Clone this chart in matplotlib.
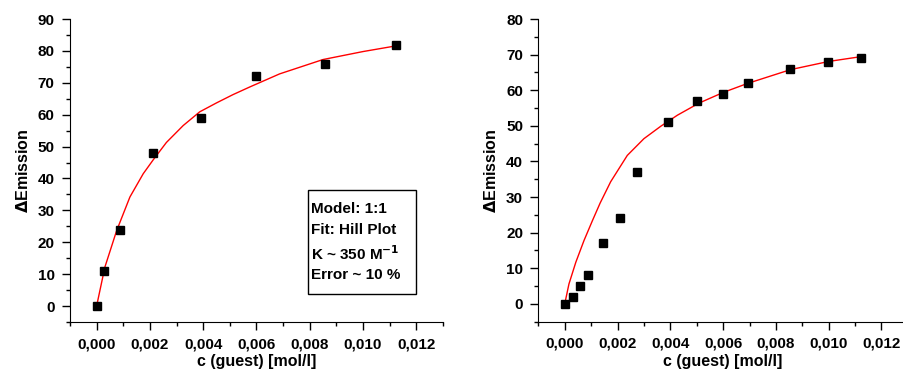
import matplotlib
matplotlib.use("Agg")
import matplotlib.pyplot as plt
from matplotlib.ticker import MultipleLocator, FuncFormatter
from matplotlib.patches import Rectangle

plt.rcParams['font.family'] = ['Liberation Sans', 'DejaVu Sans']
plt.rcParams['font.weight'] = 'bold'

# Messpunkte links (Modell 1:1)
conc_left = [0.0, 0.000275, 0.00086, 0.0021, 0.0039, 0.0060, 0.00856, 0.01124]
emis_left = [0, 11, 24, 48, 59, 72, 76, 82]

# Fitkurve links
fit_conc_left = [0.0, 0.00031, 0.00075, 0.00125, 0.00175, 0.00212, 0.00262, 0.00325,
                 0.00387, 0.0045, 0.00512, 0.00575, 0.00687, 0.0085, 0.0100, 0.01125]
fit_emis_left = [0.0, 12.2, 23.6, 34.2, 41.5, 45.8, 51.3, 56.6,
                 60.9, 63.7, 66.3, 68.7, 72.8, 77.3, 79.8, 81.6]

# Messpunkte rechts
conc_right = [0.0, 0.0003, 0.00059, 0.00087, 0.00144, 0.00208, 0.00273, 0.00391,
              0.0050, 0.0060, 0.00693, 0.00855, 0.00999, 0.01124]
emis_right = [0, 2, 5, 8, 17, 24, 37, 51, 57, 59, 62, 66, 68, 69]

# Fitkurve rechts
fit_conc_right = [0.0, 0.00016, 0.00042, 0.00073, 0.00105, 0.00134, 0.00174, 0.00237,
                  0.0030, 0.00364, 0.00427, 0.00509, 0.00601, 0.00692, 0.00856,
                  0.01001, 0.01128]
fit_emis_right = [0.0, 5.6, 11.7, 17.8, 23.4, 28.3, 34.3, 41.7,
                  46.4, 49.9, 53.0, 56.4, 59.4, 61.9, 65.8,
                  68.1, 69.5]

box_lines = ['Model: 1:1', 'Fit: Hill Plot', r'K ~ 350 M$^{\mathbf{-1}}$', 'Error ~ 10 %']


def comma_fmt(v, pos):
    return f"{v:.3f}".replace('.', ',')


def style_axis(ax, ymax):
    ax.set_xlim(-0.001, 0.013)
    ax.set_ylim(-5, ymax)
    ax.spines['top'].set_visible(False)
    ax.spines['right'].set_visible(False)
    ax.xaxis.set_major_locator(MultipleLocator(0.002))
    ax.xaxis.set_minor_locator(MultipleLocator(0.001))
    ax.yaxis.set_major_locator(MultipleLocator(10))
    ax.yaxis.set_minor_locator(MultipleLocator(5))
    ax.xaxis.set_major_formatter(FuncFormatter(comma_fmt))
    ax.tick_params(which='major', direction='out', length=6, width=1, labelsize=11, pad=5)
    ax.tick_params(which='minor', direction='out', length=3, width=1)
    for lab in ax.get_xticklabels() + ax.get_yticklabels():
        lab.set_fontweight('bold')
    ax.set_xlabel('c (guest) [mol/l]', fontsize=11.5, fontweight='bold', labelpad=2)
    ax.set_ylabel(r'$\Delta$Emission', fontsize=11.5, fontweight='bold', labelpad=5)


fig = plt.figure(figsize=(9.04, 3.73), dpi=100)

ax1 = fig.add_axes([0.0774, 0.1367, 0.4126, 0.8123])
ax1.plot(fit_conc_left, fit_emis_left, color='red', lw=1)
ax1.plot(conc_left, emis_left, 's', color='black', markersize=5.5)
style_axis(ax1, 90)

# Textkasten
ax1.add_patch(Rectangle((0.639, 0.093), 0.288, 0.342, transform=ax1.transAxes,
                        fill=False, edgecolor='black', lw=1))
for yy, txt in zip([0.374, 0.303, 0.225, 0.155], box_lines):
    ax1.text(0.645, yy, txt, transform=ax1.transAxes, fontsize=11,
             fontweight='bold', va='center', ha='left')

ax2 = fig.add_axes([0.5955, 0.1375, 0.4088, 0.8115])
ax2.plot(fit_conc_right, fit_emis_right, color='red', lw=1)
ax2.plot(conc_right, emis_right, 's', color='black', markersize=5.5)
style_axis(ax2, 80)

fig.savefig('out.png', dpi=100)
